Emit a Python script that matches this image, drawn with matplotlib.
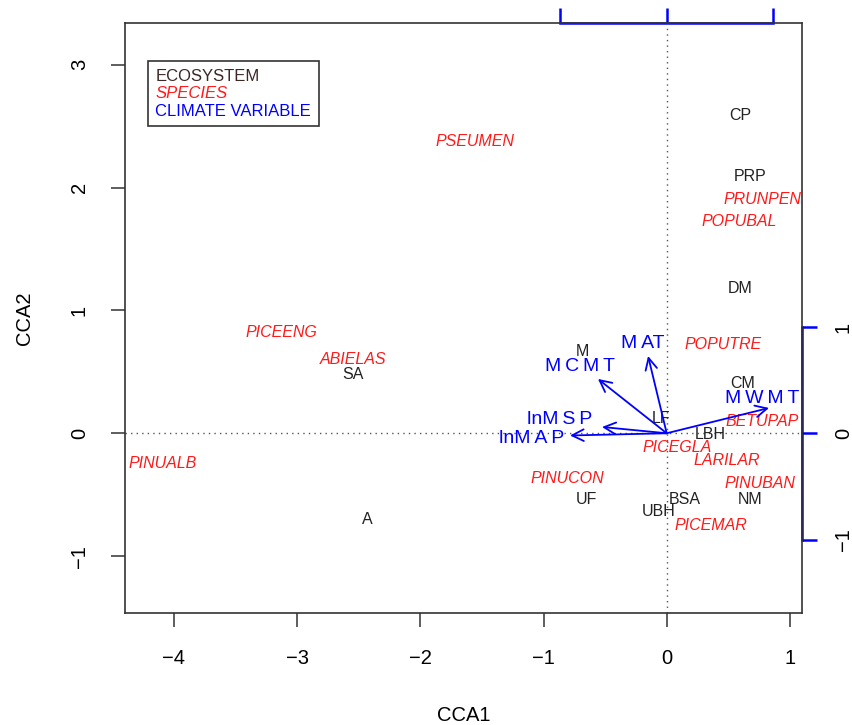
import numpy as np
import matplotlib
matplotlib.use("Agg")
import matplotlib.pyplot as plt
from matplotlib.lines import Line2D

plt.rcParams['font.family'] = ['Liberation Sans', 'DejaVu Sans']

# ecosystem (site) scores
eco_names = ["CP", "PRP", "DM", "M", "SA", "CM", "LF", "LBH", "UF", "BSA", "NM", "UBH", "A"]
eco_x = [0.595, 0.676, 0.595, -0.688, -2.546, 0.619, -0.046, 0.351, -0.655, 0.149, 0.676, -0.062, -2.433]
eco_y = [2.583, 2.094, 1.176, 0.662, 0.475, 0.409, 0.117, -0.014, -0.543, -0.543, -0.543, -0.633, -0.706]

# species scores
sp_names = ["PSEUMEN", "PRUNPEN", "POPUBAL", "PICEENG", "ABIELAS", "POPUTRE", "BETUPAP",
            "PICEGLA", "PINUALB", "LARILAR", "PINUCON", "PINUBAN", "PICEMAR"]
sp_x = [-1.556, 0.774, 0.587, -3.123, -2.546, 0.457, 0.774, 0.084, -4.089, 0.489, -0.809, 0.757, 0.360]
sp_y = [2.371, 1.899, 1.720, 0.817, 0.597, 0.719, 0.092, -0.112, -0.250, -0.218, -0.372, -0.405, -0.747]

# climate biplot scores (arrow scale) and label positions (plot scale)
clim_names = ["M\u2009AT", "M\u2009C\u2009M\u2009T", "M\u2009W\u2009M\u2009T", "lnM\u2009S\u2009P", "lnM\u2009A\u2009P"]
clim_x = [-0.175, -0.645, 0.960, -0.607, -0.907]
clim_y = [0.727, 0.511, 0.238, 0.059, -0.021]
clim_lab_x = [-0.192, -0.704, 0.774, -0.866, -1.093]
clim_lab_y = [0.727, 0.540, 0.281, 0.108, -0.046]
mul = 0.865  # arrow multiplier

xticks = [-4, -3, -2, -1, 0, 1]
yticks = [-1, 0, 1, 2, 3]
bp_ticks = [-1, 0, 1]

BLUE = "#0000FF"
RED = "#FF1A1A"

fig = plt.figure(figsize=(8.53, 7.25), dpi=100)
ax = fig.add_axes([0.1465, 0.1545, 0.9402 - 0.1465, 0.9687 - 0.1545])
ax.set_xlim(-4.397, 1.098)
ax.set_ylim(-1.463, 3.342)

ax.axhline(0, color="#555555", lw=1.0, ls=(0, (1, 3)), zorder=1)
ax.axvline(0, color="#555555", lw=1.0, ls=(0, (1, 3)), zorder=1)

for n, x, y in zip(eco_names, eco_x, eco_y):
    ax.text(x, y, n, ha="center", va="center", fontsize=11.5, color="#222222", zorder=3)
for n, x, y in zip(sp_names, sp_x, sp_y):
    ax.text(x, y, n, ha="center", va="center", fontsize=11.5, color=RED, style="italic", zorder=3)

for n, x, y, lx, ly in zip(clim_names, clim_x, clim_y, clim_lab_x, clim_lab_y):
    ax.annotate("", xy=(x * mul, y * mul), xytext=(0, 0),
                arrowprops=dict(arrowstyle="->,head_length=0.6,head_width=0.3", color=BLUE,
                                lw=1.3, shrinkA=0, shrinkB=0, mutation_scale=14), zorder=4)
    ax.text(lx, ly, n, ha="center", va="center", fontsize=14, color=BLUE, zorder=4)

for s in ax.spines.values():
    s.set_color("#333333")
    s.set_linewidth(1.2)

ax.set_xticks(xticks)
ax.set_yticks(yticks)
ax.set_xticklabels([str(t).replace("-", "\u2212") for t in xticks])
ax.set_yticklabels([str(t).replace("-", "\u2212") for t in yticks], rotation=90, va="center")
ax.tick_params(axis="both", direction="out", length=10, width=1.1, color="#333333",
               labelsize=14.5)
ax.tick_params(axis="x", pad=16)
ax.tick_params(axis="y", pad=16)
ax.set_xlabel("CCA1", fontsize=14.5, labelpad=27)
ax.set_ylabel("CCA2", fontsize=14.5, labelpad=26)

# biplot axes (top and right) in arrow scale
top = ax.secondary_xaxis("top", functions=(lambda v: v / mul, lambda v: v * mul))
top.set_xticks(bp_ticks)
top.set_xticklabels([])
top.spines["top"].set_bounds(-1, 1)
top.spines["top"].set_color(BLUE)
top.spines["top"].set_linewidth(1.8)
top.tick_params(direction="out", length=11, width=1.8, color=BLUE)

right = ax.secondary_yaxis("right", functions=(lambda v: v / mul, lambda v: v * mul))
right.set_yticks(bp_ticks)
right.set_yticklabels([str(t).replace("-", "\u2212") for t in bp_ticks], rotation=90, va="center")
right.spines["right"].set_bounds(-1, 1)
right.spines["right"].set_color(BLUE)
right.spines["right"].set_linewidth(1.8)
right.tick_params(direction="out", length=11, width=1.8, color=BLUE, labelsize=14.5, pad=12)

# legend
handles = [Line2D([], [], lw=0) for _ in range(3)]
leg = ax.legend(handles, ["ECOSYSTEM", "SPECIES", "CLIMATE VARIABLE"], loc="upper left",
                bbox_to_anchor=(0.034, 0.935), handlelength=0, handletextpad=0,
                fontsize=12, labelcolor=["#3d2626", RED, BLUE], fancybox=False,
                framealpha=1, edgecolor="#333333", borderpad=0.45, labelspacing=0.15,
                borderaxespad=0)
leg.get_frame().set_linewidth(1.2)
leg.get_texts()[1].set_style("italic")

fig.savefig("out.png", dpi=100)
